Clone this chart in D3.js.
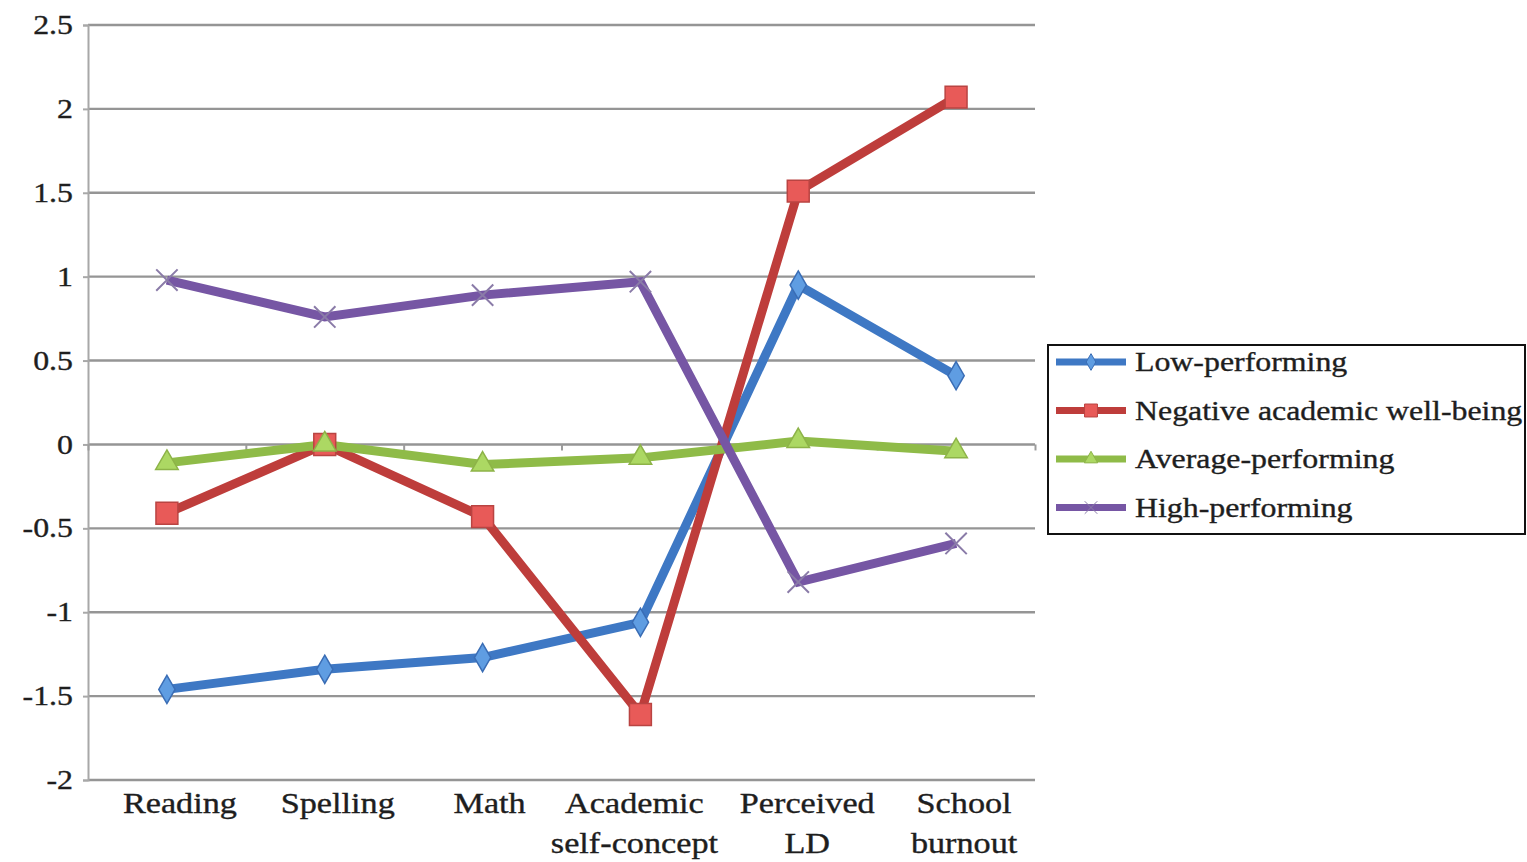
<!DOCTYPE html>
<html>
<head>
<meta charset="utf-8">
<script src="https://cdn.jsdelivr.net/npm/d3@7"></script>
<style>
  body { margin: 0; background: #fff; }
  svg { display: block; }
  text { font-family: 'Liberation Serif', 'Times New Roman', serif; fill: #1e1e1e; stroke: #1e1e1e; stroke-width: 0.35px; }
</style>
</head>
<body>
<div id="chart"></div>
<script>
// data
const categories = ['Reading', 'Spelling', 'Math', 'Academic self-concept', 'Perceived LD', 'School burnout'];
const catLines = [['Reading'], ['Spelling'], ['Math'], ['Academic', 'self-concept'], ['Perceived', 'LD'], ['School', 'burnout']];
const seriesNames = ['Low-performing', 'Negative academic well-being', 'Average-performing', 'High-performing'];
const lowPerforming = [-1.46, -1.34, -1.27, -1.06, 0.95, 0.41];
const negativeWellBeing = [-0.41, 0.0, -0.43, -1.61, 1.51, 2.07];
const averagePerforming = [-0.11, 0.0, -0.12, -0.08, 0.02, -0.04];
const highPerforming = [0.98, 0.76, 0.89, 0.97, -0.82, -0.59];
const yTicks = [-2, -1.5, -1, -0.5, 0, 0.5, 1, 1.5, 2, 2.5];

const width = 1527;
const height = 862;
const margin = { top: 25, right: 492, bottom: 82, left: 88 };
const sx = 1.18; // the source picture is stretched sideways
// the wrapped category labels are not quite centred in the source
const labelNudge = [13, 13, 7, -6, 9, 8];

const series = [
    { name: seriesNames[0], values: lowPerforming, color: '#3e78c4', fill: '#5f9de2', stroke: '#3a6db5', shape: d3.symbolDiamond, size: 230 },
    { name: seriesNames[1], values: negativeWellBeing, color: '#be3d3b', fill: '#e85a58', stroke: '#b94442', shape: d3.symbolSquare, size: 480 },
    { name: seriesNames[2], values: averagePerforming, color: '#8fbb48', fill: '#acd863', stroke: '#8db348', shape: d3.symbolTriangle, size: 220 },
    { name: seriesNames[3], values: highPerforming, color: '#7656a4', fill: 'none', stroke: '#8a7ba8', shape: d3.symbolX, size: 300 }
];

let svg = d3.select('#chart')
    .append('svg')
    .attr('width', width)
    .attr('height', height);

let x = d3.scalePoint()
    .domain(categories)
    .range([margin.left, width - margin.right])
    .padding(0.5);

let xb = d3.scaleLinear()
    .domain([0, categories.length])
    .range([margin.left, width - margin.right]);

let y = d3.scaleLinear()
    .domain([-2, 2.5])
    .range([height - margin.bottom, margin.top]);

// gridlines
svg.append('g')
    .selectAll('line')
    .data(yTicks)
    .enter()
    .append('line')
    .attr('x1', margin.left)
    .attr('x2', width - margin.right)
    .attr('y1', d => y(d))
    .attr('y2', d => y(d))
    .attr('stroke', '#959595')
    .attr('stroke-width', 2.4);

// y axis
let yAxis = g => g
    .attr('transform', `translate(${margin.left},0)`)
    .call(d3.axisLeft(y).tickValues(yTicks).tickSize(5).tickPadding(12).tickFormat(d => String(d)));

svg.append('g')
    .call(yAxis)
    .call(g => g.select('.domain').attr('stroke', '#a8a8a8').attr('stroke-width', 2))
    .call(g => g.selectAll('.tick line').attr('stroke', '#a8a8a8').attr('stroke-width', 2))
    .call(g => g.selectAll('.tick text')
        .style('font-size', '27px')
        .attr('transform', `scale(${sx},1)`)
        .attr('x', -15 / sx));

// category axis sits on zero, ticks at band edges
svg.append('g')
    .attr('transform', `translate(0,${y(0)})`)
    .call(d3.axisBottom(xb).ticks(categories.length).tickSize(6).tickFormat(''))
    .call(g => g.select('.domain').remove())
    .call(g => g.selectAll('.tick line').attr('stroke', '#9c9c9c').attr('stroke-width', 2));

// category labels at the bottom
let catG = svg.append('g')
    .selectAll('g')
    .data(categories)
    .enter()
    .append('g')
    .attr('transform', (d, i) => `translate(${x(d) + labelNudge[i]},${height - margin.bottom})`);

catG.append('text')
    .attr('text-anchor', 'middle')
    .attr('transform', `scale(${sx},1)`)
    .style('font-size', '29px')
    .selectAll('tspan')
    .data((d, i) => catLines[i])
    .enter()
    .append('tspan')
    .attr('x', 0)
    .attr('y', (d, i) => 33 + i * 40)
    .text(d => d);

// lines
let line = d3.line()
    .x((d, i) => x(categories[i]))
    .y(d => y(d));

svg.append('g')
    .selectAll('path')
    .data(series)
    .enter()
    .append('path')
    .attr('d', d => line(d.values))
    .attr('fill', 'none')
    .attr('stroke', d => d.color)
    .attr('stroke-width', 9)
    .attr('stroke-linejoin', 'miter');

// markers
series.forEach(s => {
    svg.append('g')
        .selectAll('path')
        .data(s.values)
        .enter()
        .append('path')
        .attr('transform', (d, i) => `translate(${x(categories[i])},${y(d)})`)
        .attr('d', d3.symbol().type(s.shape).size(s.size))
        .attr('fill', s.fill)
        .attr('stroke', s.stroke)
        .attr('stroke-width', s.shape === d3.symbolX ? 2 : 1.5);
});

// legend
let legend = svg.append('g')
    .attr('transform', 'translate(1048,345)');

legend.append('rect')
    .attr('width', 477)
    .attr('height', 189)
    .attr('fill', '#fff')
    .attr('stroke', '#111')
    .attr('stroke-width', 2);

let items = legend.selectAll('g.item')
    .data(series)
    .enter()
    .append('g')
    .attr('class', 'item')
    .attr('transform', (d, i) => `translate(0,${17 + i * 48.5})`);

items.append('line')
    .attr('x1', 8)
    .attr('x2', 78)
    .attr('stroke', d => d.color)
    .attr('stroke-width', 7);

items.append('path')
    .attr('transform', 'translate(43,0)')
    .attr('d', d => d3.symbol().type(d.shape).size(d.size * 0.35)())
    .attr('fill', d => d.fill)
    .attr('stroke', d => d.stroke)
    .attr('stroke-width', 1);

items.append('text')
    .attr('transform', `translate(87,0) scale(${sx},1)`)
    .attr('dy', '0.35em')
    .style('font-size', '27px')
    .text(d => d.name);
</script>
</body>
</html>
